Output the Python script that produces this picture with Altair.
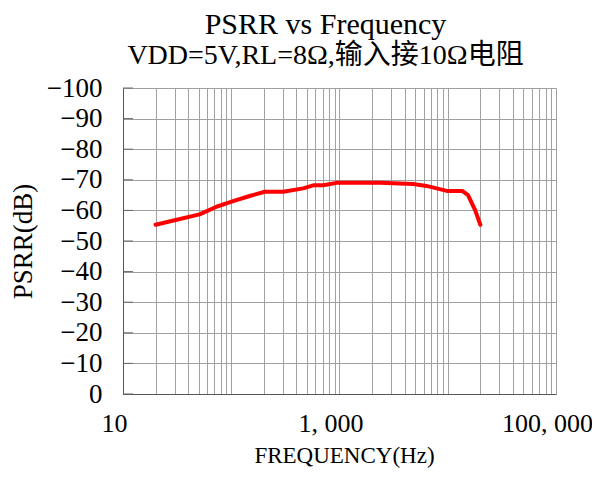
import altair as alt
import pandas as pd

freq = [20, 30, 51, 73, 104, 148, 204, 302, 462, 572, 707, 938, 1540, 2360,
        4790, 6350, 10000, 13700, 15400, 17900, 20000]
psrr = [-55.3, -56.8, -58.7, -61.2, -63.0, -64.7, -66.1, -66.1, -67.2, -68.2,
        -68.2, -69.0, -69.0, -69.0, -68.6, -68.0, -66.3, -66.3, -65.0, -60.1, -55.3]

y_ticks = [-100, -90, -80, -70, -60, -50, -40, -30, -20, -10, 0]
x_grid = [m * 10 ** k for k in range(1, 5) for m in range(1, 10)] + [100000]

df = pd.DataFrame({"f": freq, "p": psrr})
tick_df = pd.DataFrame({"v": y_ticks})

FONT = "Liberation Serif, Noto Sans CJK SC"

xscale = alt.Scale(type="log", domain=[10, 100000], nice=False)
yscale = alt.Scale(domain=[-100, 0], reverse=True, nice=False)

label_expr = ("datum.value == 10 ? '10' : datum.value == 1000 ? '1, 000' : "
              "datum.value == 100000 ? '100, 000' : ''")

y_axis = alt.Axis(values=y_ticks, title="PSRR(dB)", ticks=False, tickSize=0, labelPadding=21,
                  labelOverlap=False, labelBound=False,
                  gridColor="#a0a0a0", gridOpacity=1, domainColor="#555555",
                  labelFont=FONT, labelFontSize=27, labelColor="#000000",
                  titleFont=FONT, titleFontSize=27, titleFontWeight="normal", titleColor="#000000",
                  titleX=-100, titleY=153, titleAngle=270, titleBaseline="middle", titleAlign="center")

line = alt.Chart(df).mark_line(color="#ff0000", strokeWidth=4, strokeCap="round", strokeJoin="round").encode(
    x=alt.X("f:Q", scale=xscale,
            axis=alt.Axis(values=x_grid, title="FREQUENCY(Hz)",
                          labelExpr=label_expr, labelOffset=-9,
                          labelOverlap=False, labelFlush=False, labelPadding=16,
                          ticks=False, tickSize=0, gridColor="#a0a0a0", gridOpacity=1,
                          domainColor="#555555", labelFont=FONT, labelFontSize=26, labelColor="#000000",
                          titleFont=FONT, titleFontSize=23, titleFontWeight="normal", titleColor="#000000",
                          titleX=221, titleY=61, titleBaseline="middle", titleAlign="center")),
    y=alt.Y("p:Q", scale=yscale, axis=y_axis),
)

ticks = alt.Chart(tick_df).mark_rule(color="#666666", strokeWidth=1).encode(
    y=alt.Y("v:Q", scale=yscale, axis=y_axis),
    x=alt.value(0), x2=alt.value(10),
)

chart = alt.layer(line, ticks).properties(
    width=433, height=306,
    title=alt.TitleParams(text="PSRR vs Frequency", subtitle="VDD=5V,RL=8Ω,输入接10Ω电阻",
                          font=FONT, fontSize=30, fontWeight="normal", color="#000000",
                          subtitleFont=FONT, subtitleFontSize=28, subtitleColor="#000000",
                          subtitlePadding=2, anchor="middle", dx=-14, offset=4),
    autosize=alt.AutoSizeParams(type="none"),
    padding={"left": 115, "top": 80, "right": 36, "bottom": 85},
).configure_view(strokeWidth=0).configure(background="#ffffff")

chart.save("out.html", embed_options={"renderer": "svg", "actions": False})
